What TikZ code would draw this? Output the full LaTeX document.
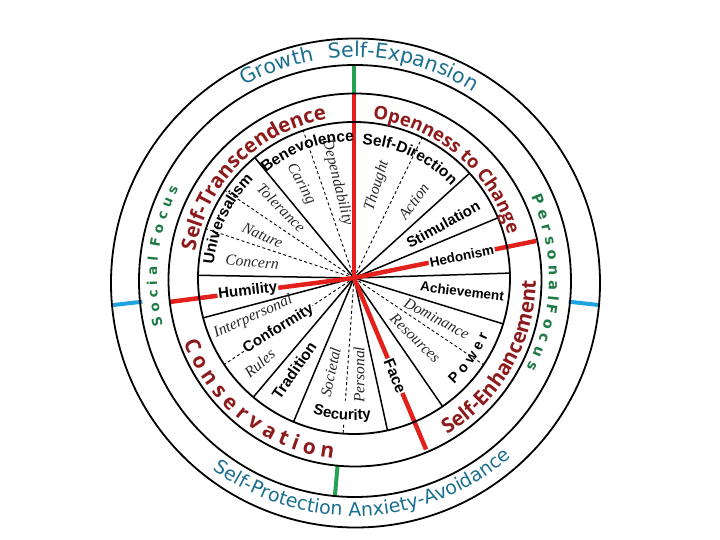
\documentclass[tikz,border=0pt]{standalone}
\usepackage{fontspec}
\setmainfont{Liberation Serif}
\newfontfamily\wheelfont{Liberation Sans}
\newfontfamily\ringfont{DejaVu Sans}
\newfontfamily\orderfont{Open Sans}
\usetikzlibrary{decorations.text}
\definecolor{order-red}{HTML}{8E1B1B}
\definecolor{focus-green}{HTML}{1F7A46}
\definecolor{ring-blue}{HTML}{1B6F8E}
\definecolor{split-red}{HTML}{E3211C}
\definecolor{split-green}{HTML}{25A24F}
\definecolor{split-blue}{HTML}{1FA3E0}
% text set along a circle: radius, from, to, colour, font, text
\newcommand{\arclabel}[6]{%
  \path[decorate, decoration={text along path, text align=center,
      text color=#4, text={|#5|#6}}]
    (#2:#1) arc[start angle=#2, end angle=#3, radius=#1];}

\begin{document}
\begin{tikzpicture}[x=1pt, y=1pt,
    every node/.style={inner sep=1pt},
    rim/.style={line width=1.8pt},
    spoke/.style={line width=1.5pt},
    subline/.style={line width=0.9pt, dash pattern=on 3pt off 2.5pt},
    redsplit/.style={line width=4.5pt, split-red},
    greensplit/.style={line width=4pt, split-green},
    bluesplit/.style={line width=4pt, split-blue},
    valuelab/.style={font=\wheelfont\bfseries\fontsize{#1}{#1}\selectfont},
    sublab/.style={font=\itshape\fontsize{15.5}{15.5}\selectfont, text=black!85}]
  \useasboundingbox (-354,-262) rectangle (366,278);

  % sectors of the wheel
  \foreach \ang in {1.8,22.7,42.2,90,129.5,179,194.8,229.8,247.2,282.4,304.6,342.9}
    \draw[spoke] (0,0) -- (\ang:156);
  \foreach \ang in {64.1,109,145.8,161.6,213.7,326.2}
    \draw[subline] (0,0) -- (\ang:156);
  \draw[subline] (0,0) -- (266:123) (266:147) -- (266:156);

  % borders between the higher order values
  \foreach \ang in {90,187.4,292.8,11.5}
    \draw[redsplit] (0,0) -- (\ang:186);
  \draw[greensplit] (90:185) -- (90:214);
  \draw[greensplit] (265:189) -- (265:219);
  \draw[bluesplit] (186.4:213) -- (186.4:243);
  \draw[bluesplit] (-6.3:216) -- (-6.3:246);

  \draw[rim] (0,0) circle[radius=156];
  \draw[rim] (1,-2) circle[radius=186.5];
  \draw[rim] (1,-3) circle[radius=216];
  \draw[rim] (1.5,-5) circle[radius=244.5];

  % values lying on a border
  \foreach \ang/\rad/\rot/\size/\lab [count=\k] in {11.5/110/11.5/13.5/Hedonism,
      -67.2/106/-67.2/15.5/Face, 214/91/32/15/Conformity, 187.2/107/6.5/15/Humility}
    \node[valuelab=\size, fill=white, rotate=\rot] (onsplit\k) at (\ang:\rad) {\lab};
  \foreach \ang/\rad/\rot/\size/\lab [count=\k] in {31/104/29/15/Stimulation,
      -7/109/-7/13.5/Achievement, 237/110/55/15.5/Tradition}
    \node[valuelab=\size, rotate=\rot] (value\k) at (\ang:\rad) {\lab};
  \foreach \ang/\rad/\rot/\lab [count=\k] in {119.5/108/-61/Caring,
      100/97/-76/Dependability, 76/95/73/Thought, 52/97/54/Action,
      136/101/-45/Tolerance, 155/101/-24/Nature, 171/103/-6/Concern,
      201/108/24/Interpersonal, 222/127/40/Rules, 256/97/78/Societal,
      273/97/90/Personal, -26/92/-28/Dominance, -44.5/86/-44/Resources}
    \node[sublab, rotate=\rot] (sub\k) at (\ang:\rad) {\lab};

  % values set along the rim
  \arclabel{137}{160}{60}{black}{\wheelfont\bfseries\fontsize{15.5}{15.5}\selectfont}{Benevolence}
  \arclabel{134}{115}{15}{black}{\wheelfont\bfseries\fontsize{15.5}{15.5}\selectfont}{Self-Direction}
  \arclabel{141}{205}{105}{black}{\wheelfont\bfseries\fontsize{15.5}{15.5}\selectfont}{Universalism}
  \arclabel{142}{215}{315}{black}{\wheelfont\bfseries\fontsize{15}{15}\selectfont}{Security}
  \arclabel{146}{-85}{15}{black}{\wheelfont\bfseries\fontsize{14.5}{14.5}\selectfont}{P o w e r}

  % higher order values
  \arclabel{161}{195}{75}{order-red}{\orderfont\bfseries\fontsize{20.5}{20.5}\selectfont}{Self-Transcendence}
  \arclabel{160}{110}{-11}{order-red}{\orderfont\bfseries\fontsize{18.5}{18.5}\selectfont}{Openness to Change}
  \arclabel{182}{-90}{30}{order-red}{\orderfont\bfseries\fontsize{20.5}{20.5}\selectfont}{Self-Enhancement}
  \arclabel{182}{172}{292}{order-red}{\orderfont\bfseries\fontsize{21}{21}\selectfont}{C o n s e r v a t i o n}

  % focus and motivation rings
  \arclabel{197}{234}{134}{focus-green}{\ringfont\bfseries\fontsize{13.5}{13.5}\selectfont}{S o c i a l}
  \arclabel{197}{212}{112}{focus-green}{\ringfont\bfseries\fontsize{13.5}{13.5}\selectfont}{F o c u s}
  \arclabel{195}{59}{-41}{focus-green}{\ringfont\bfseries\fontsize{14.5}{14.5}\selectfont}{P e r s o n a l}
  \arclabel{195}{32.5}{-67.5}{focus-green}{\ringfont\bfseries\fontsize{14.5}{14.5}\selectfont}{F o c u s}
  \arclabel{221}{160}{60}{ring-blue}{\ringfont\fontsize{20.5}{20.5}\selectfont}{Growth}
  \arclabel{221}{127}{27}{ring-blue}{\ringfont\fontsize{20.5}{20.5}\selectfont}{Self-Expansion}
  \arclabel{238}{207}{338}{ring-blue}{\ringfont\fontsize{19}{19}\selectfont}{Self-Protection Anxiety-Avoidance}
\end{tikzpicture}
\end{document}
